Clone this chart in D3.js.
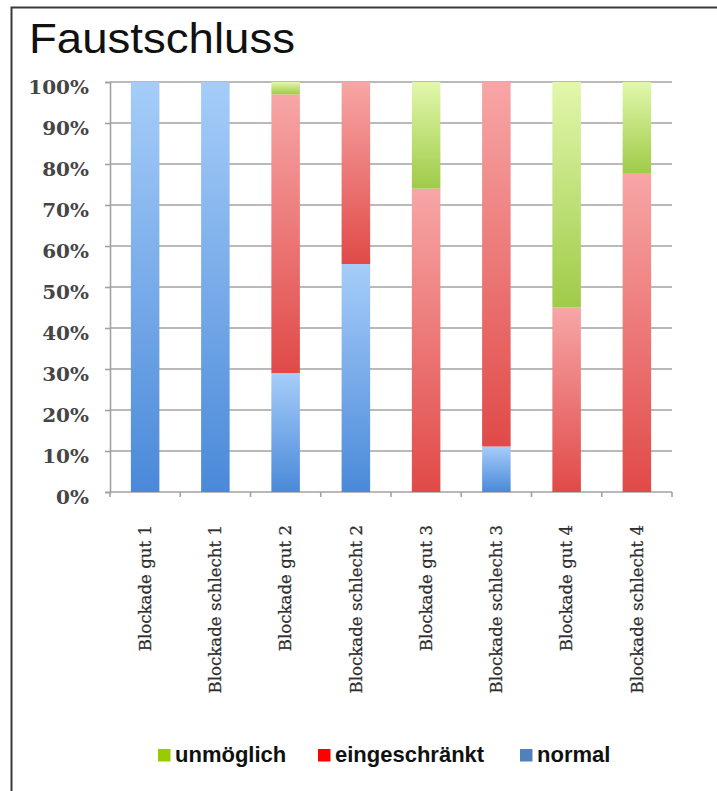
<!DOCTYPE html>
<html>
<head>
<meta charset="utf-8">
<script src="https://cdn.jsdelivr.net/npm/d3@7"></script>
<style>
  html, body { margin: 0; padding: 0; background: #fff; }
  svg { display: block; }
</style>
</head>
<body>
<svg id="chart" width="717" height="791"></svg>
<script>
// Faustschluss: share of outcomes per blockade group (percent)
const categories = [
  "Blockade gut 1", "Blockade schlecht 1",
  "Blockade gut 2", "Blockade schlecht 2",
  "Blockade gut 3", "Blockade schlecht 3",
  "Blockade gut 4", "Blockade schlecht 4"
];
const normal         = [100, 100, 29, 55.6, 0, 11.1, 0, 0];
const eingeschraenkt = [0, 0, 68, 44.4, 74, 88.9, 45, 77.8];
const unmoeglich     = [0, 0, 3, 0, 26, 0, 55, 22.2];
const yTicks = [0, 10, 20, 30, 40, 50, 60, 70, 80, 90, 100];

const seriesKeys = ["normal", "eingeschraenkt", "unmoeglich"];
const legendItems = [
  { key: "unmoeglich", label: "unmöglich", color: "#99cc00" },
  { key: "eingeschraenkt", label: "eingeschränkt", color: "#ff0000" },
  { key: "normal", label: "normal", color: "#4f81bd" }
];
const gradientStops = {
  normal:         ["#a6cdf9", "#4a89d9"],
  eingeschraenkt: ["#f7a6a6", "#e04a48"],
  unmoeglich:     ["#e2f7ac", "#9fcb48"]
};

const rows = categories.map((c, i) => ({
  category: c,
  normal: normal[i],
  eingeschraenkt: eingeschraenkt[i],
  unmoeglich: unmoeglich[i]
}));

const svg = d3.select("#chart");
const plot = { left: 110, right: 672, top: 82, bottom: 492 };

// frame
svg.append("rect")
  .attr("x", 11.5).attr("y", 7.5)
  .attr("width", 740).attr("height", 820)
  .attr("fill", "none").attr("stroke", "#3a3a3a").attr("stroke-width", 2);

// title
svg.append("text")
  .attr("x", 29).attr("y", 53)
  .attr("font-family", "'Liberation Sans', Arial, sans-serif")
  .attr("font-size", 43)
  .attr("textLength", 266).attr("lengthAdjust", "spacingAndGlyphs")
  .attr("fill", "#111")
  .text("Faustschluss");

const x = d3.scaleBand()
  .domain(categories)
  .range([plot.left, plot.right])
  .paddingInner(0.594)
  .paddingOuter(0.297);

const y = d3.scaleLinear().domain([0, 100]).range([plot.bottom, plot.top]);

// gradients, one per series (per-segment bounding box)
const defs = svg.append("defs");
seriesKeys.forEach(k => {
  const g = defs.append("linearGradient")
    .attr("id", "grad-" + k)
    .attr("x1", 0).attr("y1", 0).attr("x2", 0).attr("y2", 1);
  g.append("stop").attr("offset", "0%").attr("stop-color", gradientStops[k][0]);
  g.append("stop").attr("offset", "100%").attr("stop-color", gradientStops[k][1]);
});

// horizontal gridlines
svg.append("g")
  .selectAll("line")
  .data(yTicks.filter(t => t > 0))
  .join("line")
  .attr("x1", plot.left).attr("x2", plot.right)
  .attr("y1", d => y(d)).attr("y2", d => y(d))
  .attr("stroke", "#a2a2a2").attr("stroke-width", 1.6);

// y axis
const yAxis = svg.append("g")
  .attr("transform", `translate(${plot.left},0)`)
  .call(d3.axisLeft(y).tickValues(yTicks).tickSize(5).tickPadding(0).tickFormat(d => d + "%"));
yAxis.select(".domain").attr("stroke", "#a2a2a2").attr("stroke-width", 1.6);
yAxis.selectAll(".tick line").attr("stroke", "#a2a2a2").attr("stroke-width", 1.6);
yAxis.selectAll(".tick text")
  .attr("x", 0)
  .attr("transform", "translate(-21,5) scale(1.08,1)")
  .attr("font-family", "'DejaVu Serif', serif")
  .attr("font-weight", "bold")
  .attr("font-size", 18.5)
  .attr("fill", "#454545")
  .attr("dy", "0.35em");

// x axis line and category-boundary ticks
const xAxisG = svg.append("g");
xAxisG.append("line")
  .attr("x1", plot.left).attr("x2", plot.right)
  .attr("y1", plot.bottom).attr("y2", plot.bottom)
  .attr("stroke", "#a2a2a2").attr("stroke-width", 1.6);
const step = x.step();
xAxisG.selectAll("line.tick")
  .data(d3.range(categories.length + 1))
  .join("line")
  .attr("class", "tick")
  .attr("x1", i => plot.left + i * step).attr("x2", i => plot.left + i * step)
  .attr("y1", plot.bottom).attr("y2", plot.bottom + 5)
  .attr("stroke", "#a2a2a2").attr("stroke-width", 1.6);

// stacked bars
const stacked = d3.stack().keys(seriesKeys)(rows);
svg.append("g")
  .selectAll("g")
  .data(stacked)
  .join("g")
  .attr("fill", s => `url(#grad-${s.key})`)
  .selectAll("rect")
  .data(s => s.filter(d => d[1] - d[0] > 0))
  .join("rect")
  .attr("x", d => x(d.data.category))
  .attr("width", x.bandwidth())
  .attr("y", d => y(d[1]))
  .attr("height", d => y(d[0]) - y(d[1]));

// category labels (rotated)
svg.append("g")
  .selectAll("text")
  .data(categories)
  .join("text")
  .attr("transform", d => `translate(${x(d) + x.bandwidth() / 2},${plot.bottom + 33}) rotate(-90)`)
  .attr("text-anchor", "end")
  .attr("dy", "0.35em")
  .attr("font-family", "'DejaVu Serif', serif")
  .attr("font-size", 16.6)
  .attr("fill", "#2e2e2e")
  .attr("stroke", "#2e2e2e").attr("stroke-width", 0.25)
  .text(d => d);

// legend
const legendX = [158, 318, 520];
const legend = svg.append("g")
  .selectAll("g")
  .data(legendItems)
  .join("g")
  .attr("transform", (d, i) => `translate(${legendX[i]},749)`);
legend.append("rect")
  .attr("width", 12.5).attr("height", 12.5)
  .attr("fill", d => d.color);
legend.append("text")
  .attr("x", 17).attr("y", 12.5)
  .attr("font-family", "'Liberation Sans', Arial, sans-serif")
  .attr("font-weight", "bold")
  .attr("font-size", 22)
  .attr("fill", "#111")
  .text(d => d.label);
</script>
</body>
</html>
